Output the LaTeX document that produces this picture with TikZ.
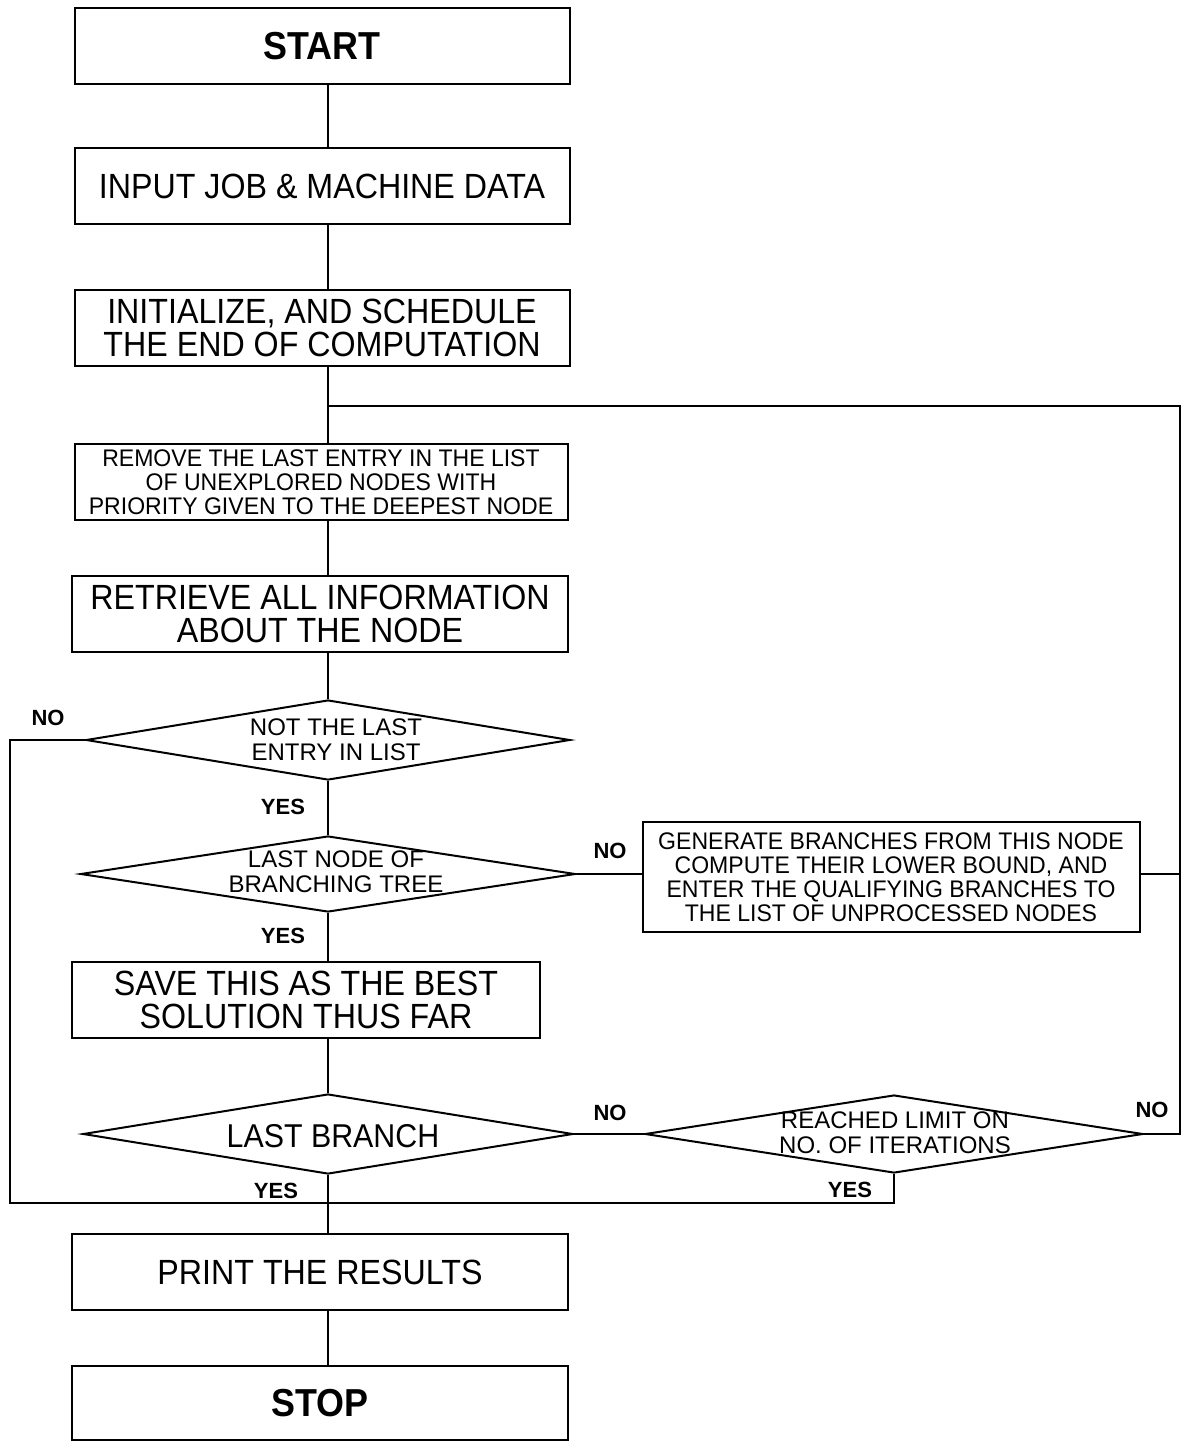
\documentclass[tikz,border=0pt]{standalone}
\usepackage{fontspec}
\setmainfont{Liberation Sans}
\newfontfamily\plotfont[FakeStretch=0.92]{Liberation Sans}
\newfontfamily\smallplotfont[FakeStretch=0.96]{Liberation Sans}
\usetikzlibrary{shapes.geometric}

\begin{document}
\begin{tikzpicture}[x=1pt, y=-1pt,
    box/.style={draw, line width=2pt, minimum height=76pt, align=center, inner sep=0pt,
        font=\plotfont\fontsize{35}{33}\selectfont},
    smallbox/.style={box, font=\smallplotfont\fontsize{24}{24}\selectfont},
    decision/.style={draw, diamond, line width=2pt, inner sep=0pt},
    dtext/.style={align=center, inner sep=0pt, font=\fontsize{24}{25}\selectfont},
    answer/.style={inner sep=0pt, font=\bfseries\fontsize{22}{22}\selectfont},
    flow/.style={line width=2pt}]

    \useasboundingbox (0,0) rectangle (1182,1441);
    \coordinate (trunk) at (328,0);

    % Main column
    \node[box, minimum width=495pt, font=\plotfont\bfseries\fontsize{39}{39}\selectfont] (start) at (322,46) {START};
    \node[box, minimum width=495pt] (input) at (322,186) {INPUT JOB \& MACHINE DATA};
    \node[box, minimum width=495pt] (init) at (322,328) {INITIALIZE, AND SCHEDULE\\THE END OF COMPUTATION};
    \node[smallbox, minimum width=493pt] (remove) at (321,482)
        {REMOVE THE LAST ENTRY IN THE LIST\\OF UNEXPLORED NODES WITH\\PRIORITY GIVEN TO THE DEEPEST NODE};
    \node[box, minimum width=496pt] (retrieve) at (320,614) {RETRIEVE ALL INFORMATION\\ABOUT THE NODE};

    % Decisions
    \node[decision, minimum width=484pt, minimum height=80pt] (dia1) at (328,740) {};
    \node[dtext] (dia1txt) at (336,740) {NOT THE LAST\\ENTRY IN LIST};
    \node[decision, minimum width=495pt, minimum height=76pt] (dia2) at (328,874) {};
    \node[dtext] (dia2txt) at (336,872) {LAST NODE OF\\BRANCHING TREE};

    \node[smallbox, minimum width=497pt, minimum height=110pt] (gen) at (891,877)
        {GENERATE BRANCHES FROM THIS NODE\\COMPUTE THEIR LOWER BOUND, AND\\ENTER THE QUALIFYING BRANCHES TO\\THE LIST OF UNPROCESSED NODES};

    \node[box, minimum width=468pt] (save) at (306,1000) {SAVE THIS AS THE BEST\\SOLUTION THUS FAR};

    \node[decision, minimum width=490pt, minimum height=80pt] (dia3) at (328,1134) {};
    \node[dtext, font=\plotfont\fontsize{33}{33}\selectfont] (dia3txt) at (333,1136) {LAST BRANCH};
    \node[decision, minimum width=498pt, minimum height=78pt] (dia4) at (894,1134) {};
    \node[dtext] (dia4txt) at (895,1133) {REACHED LIMIT ON\\NO. OF ITERATIONS};

    \node[box, minimum width=496pt] (print) at (320,1272) {PRINT THE RESULTS};
    \node[box, minimum width=496pt, minimum height=74pt, font=\plotfont\bfseries\fontsize{39}{39}\selectfont] (stop) at (320,1403) {STOP};

    % Trunk
    \draw[flow] (start.south -| trunk) -- (input.north -| trunk);
    \draw[flow] (input.south -| trunk) -- (init.north -| trunk);
    \draw[flow] (init.south -| trunk) -- (remove.north -| trunk);
    \draw[flow] (remove.south -| trunk) -- (retrieve.north -| trunk);
    \draw[flow] (retrieve.south -| trunk) -- (dia1.north);
    \draw[flow] (dia1.south) -- (dia2.north);
    \draw[flow] (dia2.south) -- (save.north -| trunk);
    \draw[flow] (save.south -| trunk) -- (dia3.north);
    \draw[flow] (dia3.south) -- (print.north -| trunk);
    \draw[flow] (print.south -| trunk) -- (stop.north -| trunk);

    % Loop back to the node list
    \coordinate (loop) at (328,406);
    \coordinate (rightrail) at (1180,406);
    \draw[flow] (loop) -- (rightrail) |- (dia4.east);
    \draw[flow] (dia2.east -| gen.east) -- (dia2.east -| rightrail);
    \draw[flow] (dia2.east) -- (dia2.east -| gen.west);
    \draw[flow] (dia3.east) -- (dia4.west);

    % Exits to the results
    \coordinate (leftrail) at (10,1203);
    \coordinate (join) at (328,1203);
    \draw[flow] (dia1.west) -| (leftrail) -- (join);
    \draw[flow] (dia4.south) |- (join);

    % Branch labels
    \node[answer] (no1) at (48,718) {NO};
    \node[answer] (yes1) at (283,807) {YES};
    \node[answer] (no2) at (610,851) {NO};
    \node[answer] (yes2) at (283,936) {YES};
    \node[answer] (no3) at (610,1113) {NO};
    \node[answer] (no4) at (1152,1110) {NO};
    \node[answer] (yes3) at (276,1191) {YES};
    \node[answer] (yes4) at (850,1190) {YES};

\end{tikzpicture}
\end{document}
